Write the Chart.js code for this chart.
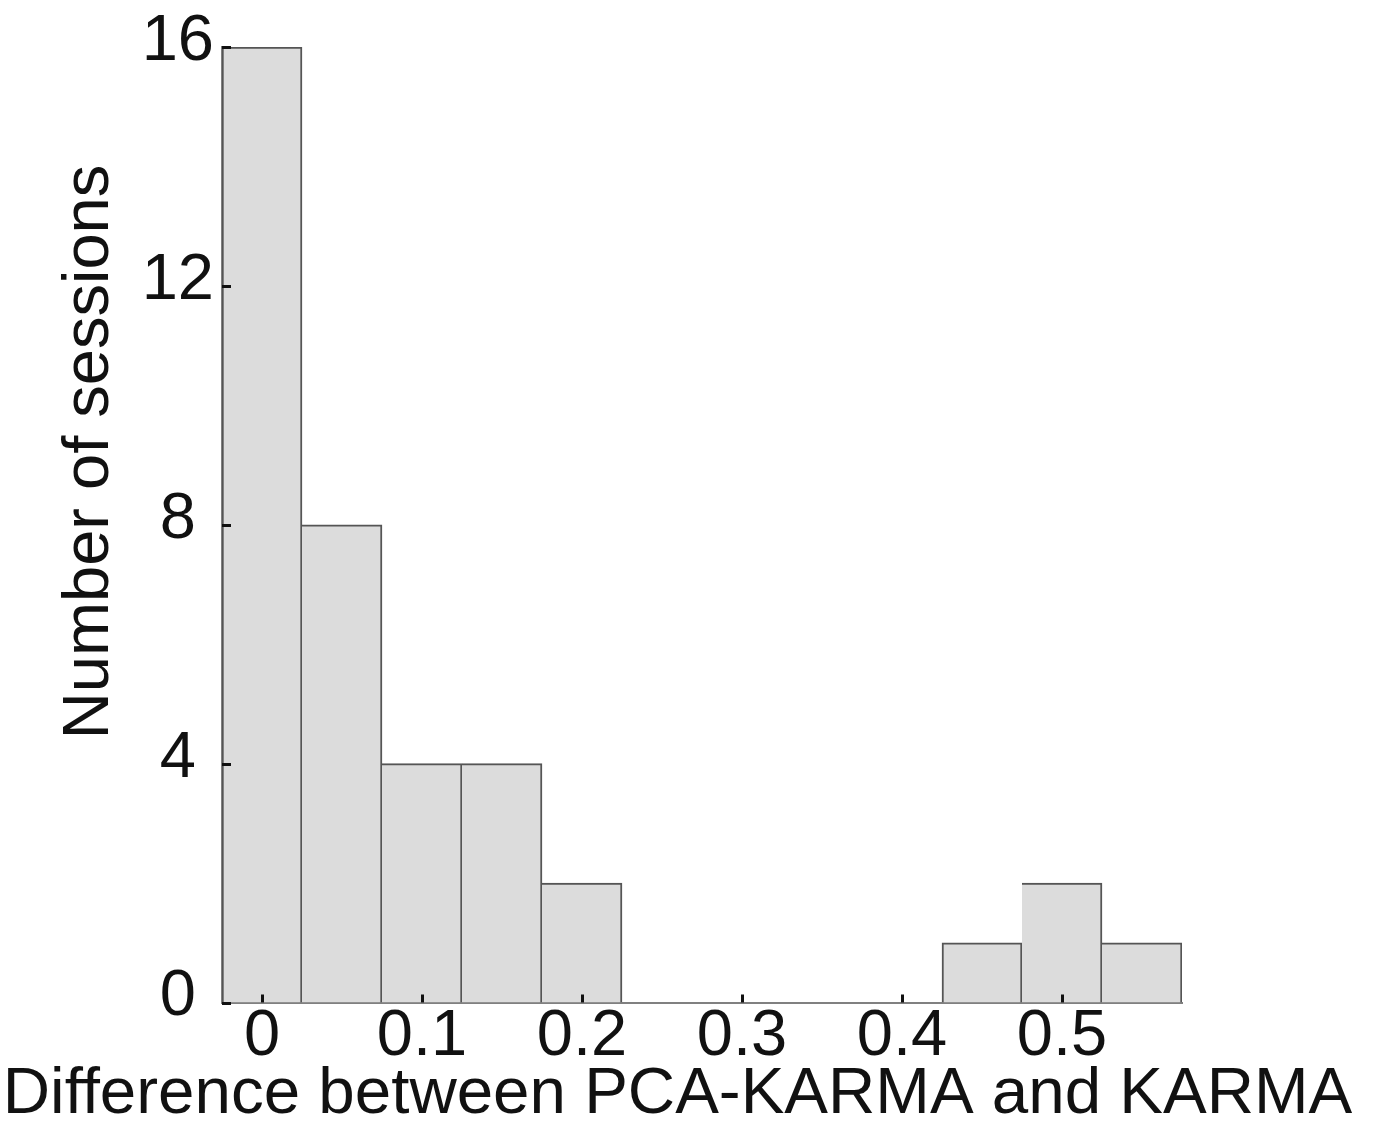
<!DOCTYPE html>
<html>
<head>
<meta charset="utf-8">
<script src="https://cdn.jsdelivr.net/npm/chart.js@4.4.1/dist/chart.umd.min.js"></script>
<style>
  html, body { margin: 0; padding: 0; background: #ffffff; }
  #wrap { width: 1373px; height: 1128px; position: relative; }
</style>
</head>
<body>
<div id="wrap"><canvas id="chart" width="1373" height="1128"></canvas></div>
<script>
// ---- data ----
const binCenters = [0, 0.05, 0.1, 0.15, 0.2, 0.25, 0.3, 0.35, 0.4, 0.45, 0.5, 0.55];
const sessionCounts = [16, 8, 4, 4, 2, 0, 0, 0, 0, 1, 2, 1];
const xTickValues = [0, 0.1, 0.2, 0.3, 0.4, 0.5];
const xTickLabels = ['0', '0.1', '0.2', '0.3', '0.4', '0.5'];
const yTickValues = [0, 4, 8, 12, 16];
const yTickLabels = ['0', '4', '8', '12', '16'];
const xAxisTitle = 'Difference between PCA-KARMA and KARMA';
const yAxisTitle = 'Number of sessions';

const FONT = "'Liberation Sans', Arial, Helvetica, sans-serif";
const TEXT = '#111111';

// inward tick marks drawn at the scales' own tick positions
const inwardTicks = {
  id: 'inwardTicks',
  afterDatasetsDraw(chart) {
    const { ctx, chartArea: a, scales } = chart;
    const x = scales.x, y = scales.y;
    ctx.save();
    ctx.strokeStyle = '#111111';
    ctx.lineWidth = 3;
    ctx.beginPath();
    xTickValues.forEach(v => {
      const px = Math.round(x.getPixelForValue(v)) + 0.5;
      ctx.moveTo(px, a.bottom);
      ctx.lineTo(px, a.bottom - 8);
    });
    yTickValues.forEach(v => {
      const py = Math.round(y.getPixelForValue(v)) + 0.5;
      ctx.moveTo(a.left, py);
      ctx.lineTo(a.left + 9, py);
    });
    ctx.stroke();
    ctx.restore();
  }
};

// y-axis title (placed like the reference, above the axis centre)
const yTitle = {
  id: 'yTitle',
  afterDraw(chart) {
    const ctx = chart.ctx;
    ctx.save();
    ctx.translate(90, 452);
    ctx.rotate(-Math.PI / 2);
    ctx.font = '65px ' + FONT;
    ctx.fillStyle = TEXT;
    ctx.textAlign = 'center';
    ctx.textBaseline = 'middle';
    ctx.fillText(yAxisTitle, 0, 0);
    ctx.restore();
  }
};

new Chart(document.getElementById('chart').getContext('2d'), {
  type: 'bar',
  data: {
    datasets: [{
      data: binCenters.map((c, i) => ({ x: c, y: sessionCounts[i] })),
      backgroundColor: '#dcdcdc',
      borderColor: '#555555',
      borderSkipped: false,
      borderWidth: (ctx) => ({
        top: 2,
        right: 2,
        bottom: 0,
        left: (ctx.dataIndex === 0 || sessionCounts[ctx.dataIndex - 1] === 0) ? 2 : 0
      }),
      barPercentage: 1,
      categoryPercentage: 1
    }]
  },
  options: {
    responsive: false,
    animation: false,
    devicePixelRatio: 1,
    layout: { padding: { top: 45, left: 0, right: 18, bottom: 0 } },
    plugins: {
      legend: { display: false },
      tooltip: { enabled: false },
      title: {
        display: true,
        text: xAxisTitle,
        position: 'bottom',
        color: TEXT,
        font: { family: FONT, size: 65.5, weight: 'normal', lineHeight: 1 },
        padding: { top: 0, bottom: 0 }
      }
    },
    scales: {
      x: {
        type: 'linear',
        min: -0.025,
        max: 0.575,
        offset: false,
        grid: { display: false, drawTicks: false, offset: false },
        border: { display: true, color: '#808080', width: 2 },
        afterBuildTicks: (s) => { s.ticks = xTickValues.map(v => ({ value: v })); },
        ticks: {
          autoSkip: false,
          maxRotation: 0,
          minRotation: 0,
          padding: -4,
          color: TEXT,
          font: { family: FONT, size: 65 },
          callback: (v, i) => xTickLabels[i]
        },
        afterFit: (s) => { s.height = 60; }
      },
      y: {
        type: 'linear',
        position: 'left',
        min: 0,
        max: 16,
        grid: { display: false, drawTicks: false },
        border: { display: true, color: '#808080', width: 2 },
        afterBuildTicks: (s) => { s.ticks = yTickValues.map(v => ({ value: v })); },
        ticks: {
          autoSkip: false,
          crossAlign: 'center',
          padding: 8,
          labelOffset: -5,
          color: TEXT,
          font: { family: FONT, size: 65 },
          callback: (v, i) => yTickLabels[i]
        },
        afterFit: (s) => { s.width = 222; }
      },
      yRight: {
        type: 'linear',
        position: 'right',
        display: true,
        grid: { display: false, drawTicks: false },
        border: { display: false },
        ticks: { display: false },
        afterFit: (s) => { s.width = 173; }
      }
    }
  },
  plugins: [inwardTicks, yTitle]
});
</script>
</body>
</html>
